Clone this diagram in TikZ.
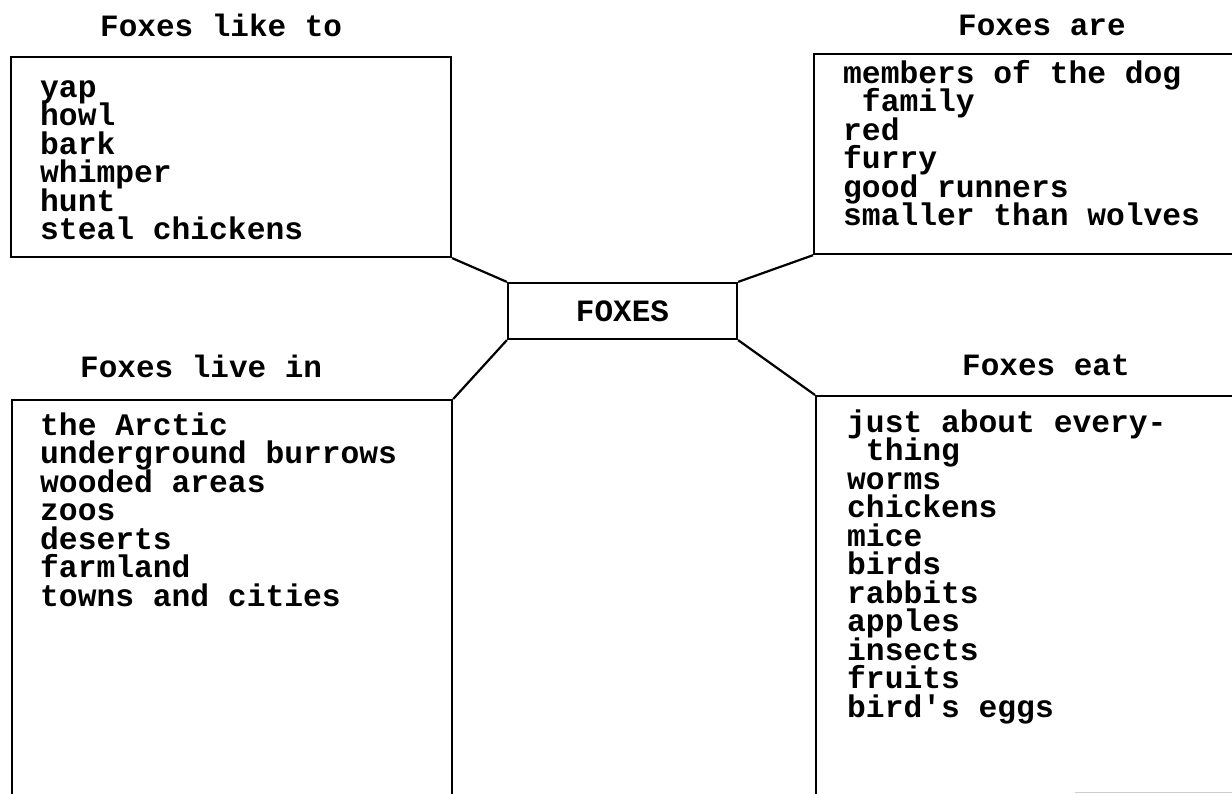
\documentclass[tikz,border=0pt]{standalone}
\usepackage{fontspec}
\newfontfamily\cour{Liberation Mono}
\tikzset{
  x=1pt, y=-1pt,
  frame/.style={draw=black, line width=2.2pt, rectangle, inner sep=0pt},
  wire/.style={draw=black, line width=2.2pt},
  txt/.style={inner sep=0pt, anchor=base west, font=\cour\bfseries\fontsize{31.3}{28.5}\selectfont},
  ttl/.style={inner sep=0pt, anchor=base west, font=\cour\bfseries\fontsize{31}{31}\selectfont},
}
\newcommand{\lst}[1]{\vtop{\lineskiplimit=-100pt\lineskip=0pt\baselineskip=28.5pt\halign{##\hfil\cr #1\crcr}}}
\begin{document}
\begin{tikzpicture}
\useasboundingbox (0,0) rectangle (1232,793);
\clip (0,0) rectangle (1232,793);
% boxes
\node[frame, minimum width=440pt, minimum height=200pt] (likes) at (231,157) {};
\node[frame, minimum width=460pt, minimum height=200pt, anchor=north west] (are) at (813,53) {};
\node[frame, minimum width=440pt, minimum height=420pt, anchor=north west] (live) at (11,399) {};
\node[frame, minimum width=460pt, minimum height=420pt, anchor=north west] (eat) at (815,395) {};
\node[frame, minimum width=229pt, minimum height=56pt, font=\cour\bfseries\fontsize{31}{31}\selectfont] (fox) at (622.5,311) {FOXES};
% connectors
\draw[wire] (likes.south east) -- (fox.north west);
\draw[wire] (are.south west) -- (fox.north east);
\draw[wire] (live.north east) -- (fox.south west);
\draw[wire] (eat.north west) -- (fox.south east);
% titles
\node[ttl] (t1) at (100,36) {Foxes like to};
\node[ttl] (t2) at (958,35) {Foxes are};
\node[ttl] (t3) at (80,377) {Foxes live in};
\node[ttl] (t4) at (962,375) {Foxes eat};
% lists
\node[txt] (l1) at (40,97) {\lst{yap\cr howl\cr bark\cr whimper\cr hunt\cr steal chickens}};
\node[txt] (l2) at (843,83) {\lst{members of the dog\cr \ family\cr red\cr furry\cr good runners\cr smaller than wolves}};
\node[txt] (l3) at (40,435) {\lst{the Arctic\cr underground burrows\cr wooded areas\cr zoos\cr deserts\cr farmland\cr towns and cities}};
\node[txt] (l4) at (847,432) {\lst{just about every-\cr \ thing\cr worms\cr chickens\cr mice\cr birds\cr rabbits\cr apples\cr insects\cr fruits\cr bird's eggs}};
% stray scan line at bottom right
\coordinate (s1) at (1075,792);
\coordinate (s2) at (1232,792);
\draw[gray!40, line width=1pt] (s1) -- (s2);
\end{tikzpicture}
\end{document}
